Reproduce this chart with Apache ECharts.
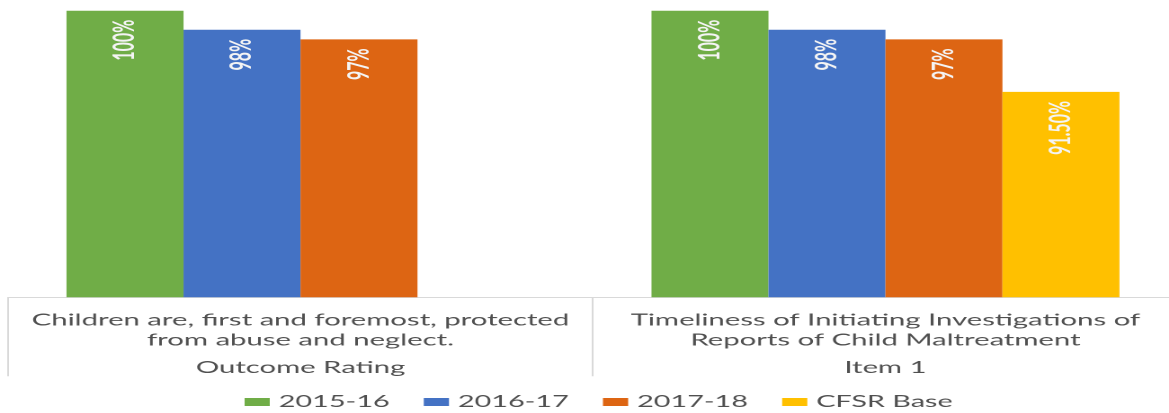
<!DOCTYPE html>
<html>
<head>
<meta charset="utf-8">
<script src="https://cdn.jsdelivr.net/npm/echarts@6/dist/echarts.min.js"></script>
<style>
  html, body { margin: 0; padding: 0; background: #ffffff; }
  #wrap { width: 1169px; height: 413px; overflow: hidden; position: relative; }
  #chart { width: 650px; height: 413px; transform: scaleX(1.7985); transform-origin: 0 0; }
</style>
</head>
<body>
<div id="wrap"><div id="chart"></div></div>
<script>
// ---- data ----
const categories = [
  'Children are, first and foremost, protected\nfrom abuse and neglect.',
  'Timeliness of Initiating Investigations of\nReports of Child Maltreatment'
];
const groupLabels = ['Outcome Rating', 'Item 1'];
const seriesNames = ['2015-16', '2016-17', '2017-18', 'CFSR Base'];
const values2015 = [100, 100];
const values2016 = [98, 98];
const values2017 = [97, 97];
const valuesCFSR = [null, 91.5];
const labelDecimals = [0, 0, 0, 2];
const seriesColors = ['#70ad47', '#4472c4', '#dd6513', '#ffc000'];

const allValues = [values2015, values2016, values2017, valuesCFSR];
const FONT = 'Lato';

const chart = echarts.init(document.getElementById('chart'), null, { renderer: 'canvas', devicePixelRatio: 2 });

const series = seriesNames.map((name, i) => ({
  name: name,
  type: 'bar',
  data: allValues[i],
  barGap: '0%',
  barCategoryGap: '20%',
  itemStyle: { color: seriesColors[i] },
  label: {
    show: true,
    position: 'insideTop',
    distance: 9,
    rotate: 90,
    align: 'right',
    verticalAlign: 'middle',
    color: '#f4f4f4',
    fontFamily: FONT,
    fontWeight: 'bold',
    fontSize: 16,
    formatter: p => (p.value == null ? '' : p.value.toFixed(labelDecimals[i]) + '%')
  }
}));

chart.setOption({
  animation: false,
  textStyle: { fontFamily: FONT },
  grid: { left: 4.45, top: 10.7, width: 650.5, height: 286.6, containLabel: false, outerBoundsMode: 'none' },
  legend: {
    data: seriesNames,
    left: 131,
    top: 389,
    itemWidth: 14,
    itemHeight: 8,
    itemGap: 19,
    icon: 'rect',
    textStyle: { fontFamily: FONT, fontSize: 16, color: '#505050' }
  },
  xAxis: {
    type: 'category',
    data: categories,
    axisLine: { show: true, lineStyle: { color: '#d9d9d9', width: 1 } },
    axisTick: { show: true, interval: 0, length: 79, lineStyle: { color: '#d9d9d9', width: 1 } },
    axisLabel: {
      interval: 0,
      margin: 13,
      formatter: (value, index) => {
        const lines = value.split('\n').map(l => '{a|' + l + '}');
        return lines.join('\n') + '\n{c|' + groupLabels[index] + '}';
      },
      rich: {
        a: { fontFamily: FONT, fontSize: 16.3, lineHeight: 20, color: '#505050' },
        c: { fontFamily: FONT, fontSize: 16.3, lineHeight: 35, color: '#505050' }
      }
    }
  },
  yAxis: {
    type: 'value',
    min: 70,
    max: 100,
    show: false,
    splitLine: { show: false }
  },
  series: series
});
</script>
</body>
</html>
